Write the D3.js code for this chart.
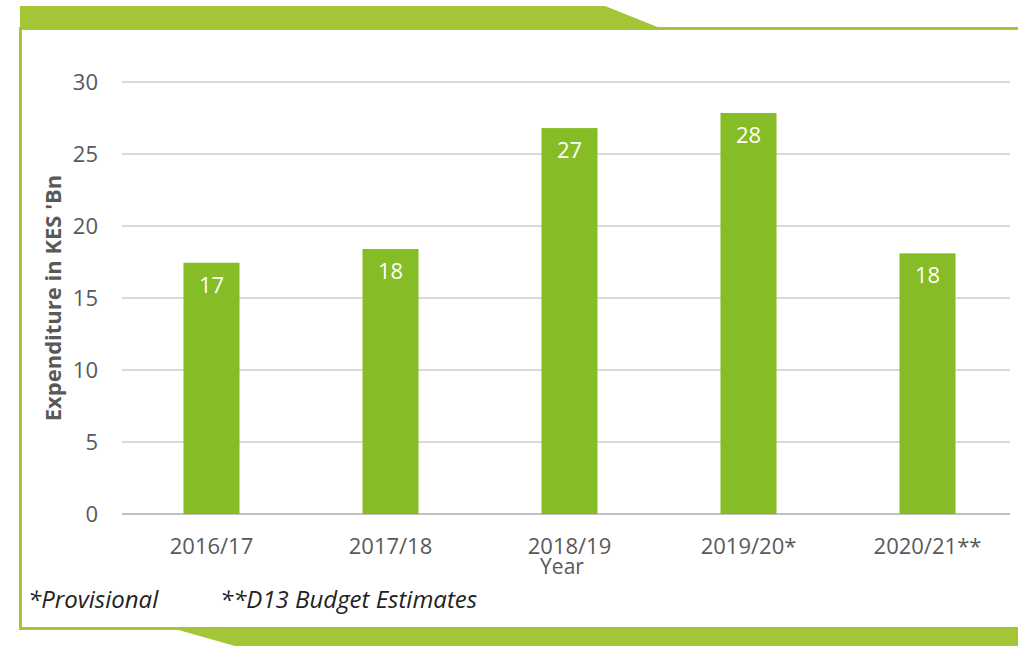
<!DOCTYPE html>
<html><head><meta charset="utf-8">
<script src="https://cdn.jsdelivr.net/npm/d3@7"></script>
<style>html,body{margin:0;padding:0;background:#fff;}svg{display:block;font-family:"Open Sans",sans-serif;}</style>
</head><body>
<svg id="c" width="1018" height="646"></svg>
<script>
const categories = ["2016/17","2017/18","2018/19","2019/20*","2020/21**"];
const values = [17.45, 18.4, 26.8, 27.85, 18.1];
const yTicks = [0,5,10,15,20,25,30];
const yTitle = "Expenditure in KES 'Bn";
const xTitle = "Year";
const notes = ["*Provisional","**D13 Budget Estimates"];

const svg = d3.select("#c");
const frame = "#a3c536";
const barColor = "#86bc25";
const textColor = "#595959";

// decorative frame
svg.append("path").attr("d","M20,6 L605,6 L660,28 L20,28 Z").attr("fill",frame);
svg.append("rect").attr("x",20).attr("y",27).attr("width",998).attr("height",3).attr("fill",frame);
svg.append("rect").attr("x",19).attr("y",27).attr("width",3).attr("height",603).attr("fill",frame);
svg.append("rect").attr("x",19).attr("y",627).attr("width",999).attr("height",3).attr("fill",frame);
svg.append("path").attr("d","M175,629 L1018,629 L1018,646 L235,646 Z").attr("fill",frame);

const x = d3.scaleBand().domain(categories).range([122,1017]).paddingInner(0.687).paddingOuter(0.3435);
const y = d3.scaleLinear().domain([0,30]).range([514,82]);

// grid
svg.append("g").selectAll("line").data(yTicks).join("line")
  .attr("x1",122).attr("x2",1010).attr("y1",d=>y(d)).attr("y2",d=>y(d))
  .attr("stroke",d=>d===0?"#bfbfbf":"#d9d9d9").attr("stroke-width",2);

// y axis
const ya = svg.append("g").attr("transform","translate(122,0)")
  .call(d3.axisLeft(y).tickValues(yTicks).tickSize(0).tickPadding(24));
ya.select(".domain").remove();
ya.selectAll("text").attr("font-size",22).attr("fill",textColor).attr("font-family","Open Sans");

// x axis
const xa = svg.append("g").attr("transform","translate(0,514)")
  .call(d3.axisBottom(x).tickSize(0).tickPadding(0));
xa.select(".domain").remove();
xa.selectAll("text").attr("font-size",22).attr("fill",textColor).attr("font-family","Open Sans")
  .attr("dy",null).attr("y",40);

// bars
svg.append("g").selectAll("rect").data(values).join("rect")
  .attr("x",(d,i)=>x(categories[i])).attr("width",x.bandwidth())
  .attr("y",d=>y(d)).attr("height",d=>y(0)-y(d)).attr("fill",barColor);

// labels
const fmt = d3.format(".0f");
svg.append("g").selectAll("text").data(values).join("text")
  .attr("x",(d,i)=>x(categories[i])+x.bandwidth()/2).attr("y",d=>y(d)+30)
  .attr("text-anchor","middle").attr("fill","#fff").attr("font-size",22).text(d=>fmt(d));

// titles
svg.append("text").attr("transform","translate(61,298) rotate(-90)").attr("text-anchor","middle")
  .attr("font-size",22).attr("font-weight","bold").attr("fill",textColor).text(yTitle);
svg.append("text").attr("x",562).attr("y",574).attr("text-anchor","middle")
  .attr("font-size",21).attr("fill",textColor).text(xTitle);

// notes
svg.append("text").attr("x",28).attr("y",608).attr("font-size",24).attr("font-style","italic").attr("fill","#222").text(notes[0]);
svg.append("text").attr("x",220).attr("y",608).attr("font-size",24).attr("font-style","italic").attr("fill","#222").text(notes[1]);
</script>
</body></html>
